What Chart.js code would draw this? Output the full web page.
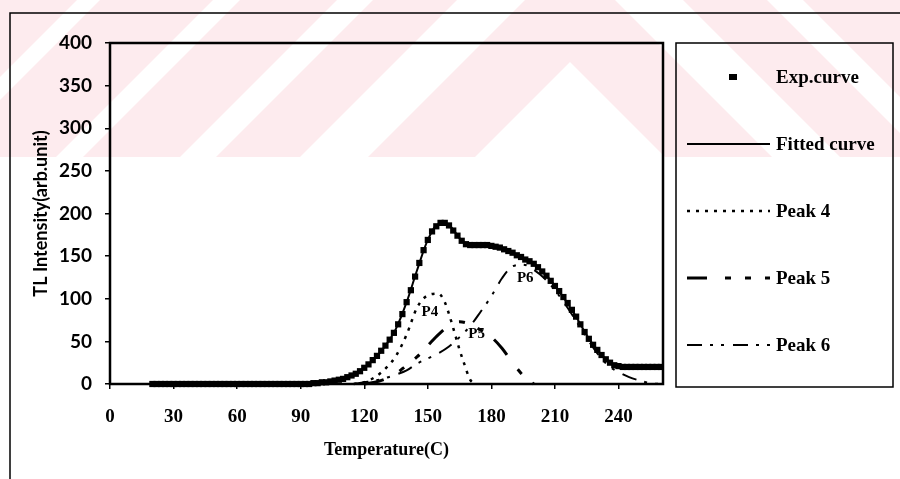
<!DOCTYPE html>
<html>
<head>
<meta charset="utf-8">
<script src="https://cdn.jsdelivr.net/npm/chart.js@4.4.0/dist/chart.umd.min.js"></script>
<style>
  html, body { margin: 0; padding: 0; background: #fff; }
</style>
</head>
<body>
<canvas id="myChart" width="900" height="479"></canvas>
<script>
// experimental points (every 2 C)
const expTemps = [
    20, 22, 24, 26, 28, 30, 32, 34, 36, 38, 40, 42, 44, 46, 48, 50, 52, 54, 56, 58,
    60, 62, 64, 66, 68, 70, 72, 74, 76, 78, 80, 82, 84, 86, 88, 90, 92, 94,
    96, 98, 100, 102, 104, 106, 108, 110, 112, 114, 116, 118, 120, 122, 124, 126, 128, 130, 132, 134, 136, 138,
    140, 142, 144, 146, 148, 150, 152, 154, 156, 158, 160, 162, 164, 166, 168, 170, 172, 174, 176, 178,
    180, 182, 184, 186, 188, 190, 192, 194, 196, 198, 200, 202, 204, 206, 208, 210, 212, 214, 216, 218,
    220, 222, 224, 226, 228, 230, 232, 234, 236, 238, 240, 242, 244, 246, 248, 250, 252, 254, 256, 258, 260
];
const expValues = [
    0, 0, 0, 0, 0, 0, 0, 0, 0, 0, 0, 0, 0, 0, 0, 0, 0, 0, 0, 0,
    0, 0, 0, 0, 0, 0, 0, 0, 0, 0, 0, 0, 0, 0, 0, 0, 0, 0,
    1, 1, 2, 2, 3, 4, 5, 6, 8, 10, 12, 15, 19, 23, 28, 33, 39, 45, 52, 60, 70, 82,
    96, 110, 126, 142, 157, 169, 179, 185, 189, 189, 186, 180, 174, 168, 164, 163, 163, 163, 163, 163,
    162, 161, 160, 158, 156, 154, 151, 149, 146, 144, 141, 137, 132, 127, 121, 115, 109, 102, 95, 87,
    79, 70, 61, 53, 46, 40, 34, 29, 25, 22, 21, 20, 20, 20, 20, 20, 20, 20, 20, 20, 20
];

const fitTemps = [0, 90, 95, 100, 105, 110, 115, 120, 125, 130, 135, 140, 145, 150, 155, 160, 165, 170, 175,
    180, 185, 190, 195, 200, 205, 210, 215, 220, 225, 230, 235, 240, 245, 250, 255, 260];
const fitValues = [0, 0, 1, 2, 3, 6, 11, 19, 30, 45, 65, 96, 134, 169, 187, 186, 171, 163, 163,
    162, 159, 154, 148, 141, 130, 115, 98, 79, 57, 40, 27, 21, 20, 20, 20, 20];

const p4Temps = [115, 120, 125, 130, 135, 140, 145, 150, 155, 158, 160, 163, 165, 167, 170, 173];
const p4Values = [0, 2, 8, 18, 33, 58, 90, 104, 106, 96, 82, 57, 40, 25, 5, 0];

const p5Temps = [120, 125, 130, 135, 140, 145, 150, 155, 160, 165, 170, 175, 180, 185, 190, 195, 200];
const p5Values = [0, 2, 6, 12, 22, 32, 45, 58, 68, 73, 70, 63, 55, 42, 25, 10, 0];

const p6Temps = [115, 120, 125, 130, 135, 140, 145, 150, 155, 160, 165, 170, 175, 180, 185, 190, 195,
    200, 205, 210, 215, 220, 225, 230, 235, 240, 245, 250, 255, 260];
const p6Values = [0, 2, 4, 7, 11, 16, 24, 30, 36, 44, 55, 68, 85, 103, 124, 138, 140,
    134, 124, 110, 93, 74, 54, 36, 22, 14, 8, 4, 1, 0];

const seriesNames = ['Exp.curve', 'Fitted curve', 'Peak 4', 'Peak 5', 'Peak 6'];

const peakLabels = ['P4', 'P5', 'P6'];
const peakLabelTemps = [151, 173, 196];
const peakLabelValues = [84, 59, 124];

const xTicks = [0, 30, 60, 90, 120, 150, 180, 210, 240];

// pale watermark bands at the top of the scan (chevron offsets)
const markBands = [[-45, 62], [-197, -113], [-330, -233], [-470, -357], [-600, -493]];

function pairs(xs, ys) {
    return xs.map((x, i) => ({x: x, y: ys[i]}));
}

const serif = '"Liberation Serif", "Times New Roman", serif';
const sans = 'Lato, "Noto Sans", sans-serif';

const decor = {
    id: 'decor',
    beforeDraw(chart) {
        const ctx = chart.ctx;
        ctx.save();
        ctx.fillStyle = '#fff';
        ctx.fillRect(0, 0, chart.width, chart.height);
        ctx.beginPath();
        ctx.rect(0, 0, chart.width, 157);
        ctx.clip();
        ctx.fillStyle = '#fdebee';
        const c = 570, L = 1200;
        markBands.forEach(([a1, a2]) => {
            ctx.beginPath();
            ctx.moveTo(c - L, a1 + L);
            ctx.lineTo(c, a1);
            ctx.lineTo(c + L, a1 + L);
            ctx.lineTo(c + L, a2 + L);
            ctx.lineTo(c, a2);
            ctx.lineTo(c - L, a2 + L);
            ctx.closePath();
            ctx.fill();
        });
        ctx.restore();

        // outer frame (cut by the page)
        ctx.save();
        ctx.strokeStyle = '#000';
        ctx.lineWidth = 1.5;
        ctx.beginPath();
        ctx.moveTo(10, chart.height);
        ctx.lineTo(10, 13);
        ctx.lineTo(chart.width, 13);
        ctx.stroke();
        ctx.restore();
    },
    afterDraw(chart) {
        const ctx = chart.ctx;
        const a = chart.chartArea;
        ctx.save();
        ctx.strokeStyle = '#000';
        ctx.lineWidth = 2.5;
        ctx.strokeRect(a.left, a.top, a.right - a.left, a.bottom - a.top);

        // peak labels
        const xs = chart.scales.x, ys = chart.scales.y;
        ctx.fillStyle = '#000';
        ctx.font = 'bold 15px ' + serif;
        ctx.textAlign = 'center';
        ctx.textBaseline = 'middle';
        peakLabels.forEach((t, i) => {
            ctx.fillText(t, xs.getPixelForValue(peakLabelTemps[i]), ys.getPixelForValue(peakLabelValues[i]));
        });

        // legend
        ctx.lineWidth = 1.5;
        ctx.strokeRect(676, 43, 217, 344);
        ctx.font = 'bold 19px ' + serif;
        ctx.textAlign = 'left';
        chart.data.datasets.forEach((ds, i) => {
            const y = 77 + i * 67;
            if (ds.showLine === false) {
                ctx.fillRect(729, y - 3, 8, 6);
            } else {
                ctx.save();
                ctx.lineWidth = ds.borderWidth;
                ctx.setLineDash(ds.borderDash || []);
                ctx.beginPath();
                ctx.moveTo(687, y);
                ctx.lineTo(770, y);
                ctx.stroke();
                ctx.restore();
            }
            ctx.fillText(ds.label, 776, y + 1);
        });
        ctx.restore();
    }
};

let data = {
    datasets: [{
        label: seriesNames[0],
        data: pairs(expTemps, expValues),
        showLine: false,
        pointStyle: 'rect',
        pointRadius: 4.4,
        pointBorderWidth: 0,
        backgroundColor: '#000',
        borderColor: '#000',
        clip: 5
    }, {
        label: seriesNames[1],
        data: pairs(fitTemps, fitValues),
        borderColor: '#000',
        borderWidth: 2,
        pointRadius: 0,
        cubicInterpolationMode: 'monotone',
        clip: 5
    }, {
        label: seriesNames[2],
        data: pairs(p4Temps, p4Values),
        borderColor: '#000',
        borderWidth: 2.5,
        borderDash: [3, 6],
        pointRadius: 0,
        cubicInterpolationMode: 'monotone',
        clip: 5
    }, {
        label: seriesNames[3],
        data: pairs(p5Temps, p5Values),
        borderColor: '#000',
        borderWidth: 3,
        borderDash: [20, 18, 6, 14, 6, 14],
        pointRadius: 0,
        cubicInterpolationMode: 'monotone',
        clip: 5
    }, {
        label: seriesNames[4],
        data: pairs(p6Temps, p6Values),
        borderColor: '#000',
        borderWidth: 2,
        borderDash: [15, 8, 3, 8, 3, 9],
        pointRadius: 0,
        cubicInterpolationMode: 'monotone',
        clip: 5
    }]
};

let config = {
    type: 'line',
    data: data,
    options: {
        responsive: false,
        animation: false,
        layout: {
            padding: {left: 26, top: 43, right: 237, bottom: 18}
        },
        plugins: {
            legend: {display: false},
            tooltip: {enabled: false}
        },
        scales: {
            x: {
                type: 'linear',
                min: 0,
                max: 261,
                afterBuildTicks: (s) => { s.ticks = xTicks.map(v => ({value: v})); },
                afterFit: (s) => { s.height = 479 - 18 - 384; },
                ticks: {
                    color: '#000',
                    padding: 17,
                    maxRotation: 0,
                    autoSkip: false,
                    font: {family: serif, size: 19, weight: 'bold'}
                },
                grid: {drawOnChartArea: false, drawTicks: true, tickLength: 5, color: '#000', lineWidth: 1.5},
                border: {display: false},
                title: {
                    display: true,
                    text: 'Temperature(C)',
                    color: '#000',
                    font: {family: serif, size: 18, weight: 'bold'},
                    padding: {top: 0, bottom: 0}
                }
            },
            y: {
                min: 0,
                max: 400,
                afterFit: (s) => { s.width = 110 - 26; },
                ticks: {
                    stepSize: 50,
                    color: '#000',
                    padding: 13,
                    font: {family: sans, size: 19, weight: 'bold'}
                },
                grid: {drawOnChartArea: false, drawTicks: true, tickLength: 5, color: '#000', lineWidth: 1.5},
                border: {display: false},
                title: {
                    display: true,
                    text: 'TL Intensity(arb.unit)',
                    color: '#000',
                    font: {family: sans, size: 18, weight: 'bold'},
                    padding: {top: 4, bottom: 0}
                }
            }
        }
    },
    plugins: [decor]
};

let myChart = new Chart(
    document.getElementById('myChart'),
    config,
);
</script>
</body>
</html>
